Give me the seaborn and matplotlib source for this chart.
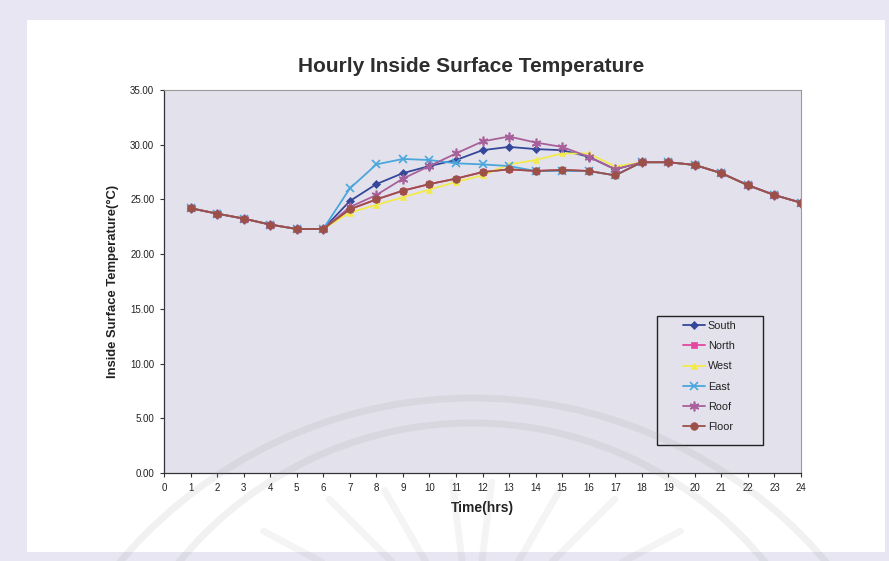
import matplotlib
matplotlib.use("Agg")
import numpy as np
import matplotlib.pyplot as plt
import seaborn as sns
import pandas as pd
from matplotlib.patches import Rectangle, Circle
from matplotlib.lines import Line2D
from matplotlib.transforms import IdentityTransform

hours = list(range(1, 25))
south = [24.2, 23.7, 23.25, 22.7, 22.3, 22.3, 24.85, 26.4, 27.4, 28.05, 28.6, 29.5, 29.8, 29.6, 29.5, 28.9, 27.75, 28.4, 28.4, 28.15, 27.4, 26.3, 25.4, 24.7]
north = [24.2, 23.7, 23.25, 22.7, 22.3, 22.3, 24.1, 25.0, 25.8, 26.4, 26.9, 27.5, 27.75, 27.6, 27.7, 27.6, 27.2, 28.4, 28.4, 28.15, 27.4, 26.3, 25.4, 24.7]
west = [24.2, 23.7, 23.25, 22.7, 22.3, 22.3, 23.8, 24.5, 25.2, 25.9, 26.6, 27.2, 28.2, 28.6, 29.2, 29.2, 28.0, 28.4, 28.4, 28.15, 27.4, 26.3, 25.4, 24.7]
east = [24.2, 23.7, 23.25, 22.7, 22.3, 22.3, 26.0, 28.2, 28.7, 28.6, 28.3, 28.2, 28.05, 27.6, 27.6, 27.6, 27.2, 28.4, 28.4, 28.15, 27.4, 26.3, 25.4, 24.7]
roof = [24.2, 23.7, 23.25, 22.7, 22.3, 22.3, 24.3, 25.4, 26.9, 28.05, 29.2, 30.3, 30.75, 30.2, 29.8, 28.9, 27.75, 28.4, 28.4, 28.15, 27.4, 26.3, 25.4, 24.7]
floor = [24.2, 23.7, 23.25, 22.7, 22.3, 22.3, 24.1, 25.0, 25.8, 26.4, 26.9, 27.5, 27.75, 27.6, 27.7, 27.6, 27.2, 28.4, 28.4, 28.15, 27.4, 26.3, 25.4, 24.7]

series_names = ["South", "North", "West", "East", "Roof", "Floor"]
series_values = [south, north, west, east, roof, floor]
colors = ["#34479a", "#e4479f", "#f2ea4a", "#4aa6dc", "#a8609a", "#9c5048"]
markers = ["D", "s", "^", "x", (6, 2, 0), "o"]
msizes = [4.5, 5, 5, 6, 7, 5.5]

sns.set_theme(style="white")
plt.rcParams["font.family"] = ["Liberation Sans", "DejaVu Sans"]

W, H = 889, 561
fig = plt.figure(figsize=(W / 100, H / 100), dpi=100)
fig.patch.set_facecolor("#e7e6f2")
# white chart area inside a lavender border
fig.patches.append(Rectangle((27 / W, 1 - 552 / H), (885 - 27) / W, (552 - 20) / H,
                             transform=fig.transFigure, facecolor="white", edgecolor="none",
                             zorder=-10))

ax = fig.add_axes([164 / W, 1 - 473 / H, (801 - 164) / W, (473 - 90) / H])
ax.set_zorder(5)
ax.set_facecolor("#e3e2ec")

for name, vals, c, m, ms in zip(series_names, series_values, colors, markers, msizes):
    df = pd.DataFrame({"hour": hours, "temp": vals})
    sns.lineplot(data=df, x="hour", y="temp", ax=ax, color=c, marker=m, markersize=ms,
                 markeredgecolor=c, markeredgewidth=1.2 if m in ("x", (6, 2, 0)) else 0.5,
                 linewidth=1.3, label=name)

ax.set_xlim(0, 24)
ax.set_ylim(0, 35)
ax.set_xticks(range(0, 25))
ax.set_yticks([0, 5, 10, 15, 20, 25, 30, 35])
ax.set_yticklabels([f"{v:.2f}" for v in [0, 5, 10, 15, 20, 25, 30, 35]])
ax.tick_params(axis="both", which="both", direction="out", length=3, width=0.8,
               color="#333333", labelsize=7, labelcolor="#222222", pad=4)
ax.tick_params(left=True, bottom=True)

for side in ["left", "bottom"]:
    ax.spines[side].set_color("#333333")
    ax.spines[side].set_linewidth(0.9)
for side in ["top", "right"]:
    ax.spines[side].set_color("#9a9a9a")
    ax.spines[side].set_linewidth(0.8)

ax.set_xlabel("Time(hrs)", fontsize=10, fontweight="bold", color="#222222", labelpad=6)
ax.set_ylabel("Inside Surface Temperature(\u00b0C)", fontsize=9.4, fontweight="bold",
              color="#222222", labelpad=8)
fig.text(471 / W, 1 - 67 / H, "Hourly Inside Surface Temperature", ha="center", va="center",
         fontsize=15, fontweight="bold", color="#2e2e2e")

# legend: entries without frame, boxed by a separate rectangle
handles, labels = ax.get_legend_handles_labels()
leg = ax.legend(handles, labels, loc="upper left",
                bbox_to_anchor=(683 / W, 1 - 321 / H), bbox_transform=fig.transFigure,
                frameon=False, fontsize=7.8, handlelength=2.0, handletextpad=0.3,
                labelspacing=0.94, borderpad=0, borderaxespad=0)
for t in leg.get_texts():
    t.set_color("#222222")
ax.add_patch(Rectangle((657 / W, 1 - 445 / H), (763 - 657) / W, (445 - 316) / H,
                       transform=fig.transFigure, facecolor="none", edgecolor="#222222",
                       linewidth=1.0, zorder=6, clip_on=False))

# faint emblem in the background
ghost_color = "#8c8c8c"
for (cx, cy, r) in [(473, 860, 462), (472, 801, 378)]:
    fig.patches.append(Circle((cx, H - cy), r, transform=IdentityTransform(), fill=False,
                              edgecolor=ghost_color, alpha=0.12, linewidth=5, zorder=20))
cx, cy = 472, 642
for ang, r0 in zip([-62, -45, -30, -7, 7, 30, 45, 62], [236, 202, 175, 161, 161, 175, 202, 236]):
    a = np.deg2rad(ang)
    x0, y0 = cx + r0 * np.sin(a), cy - r0 * np.cos(a)
    x1, y1 = cx + 70 * np.sin(a), cy - 70 * np.cos(a)
    fig.lines.append(Line2D([x0, x1], [H - y0, H - y1], transform=IdentityTransform(),
                            color=ghost_color, alpha=0.09, linewidth=5,
                            solid_capstyle="round", zorder=20))

fig.savefig("out.png", dpi=100, facecolor=fig.get_facecolor())
